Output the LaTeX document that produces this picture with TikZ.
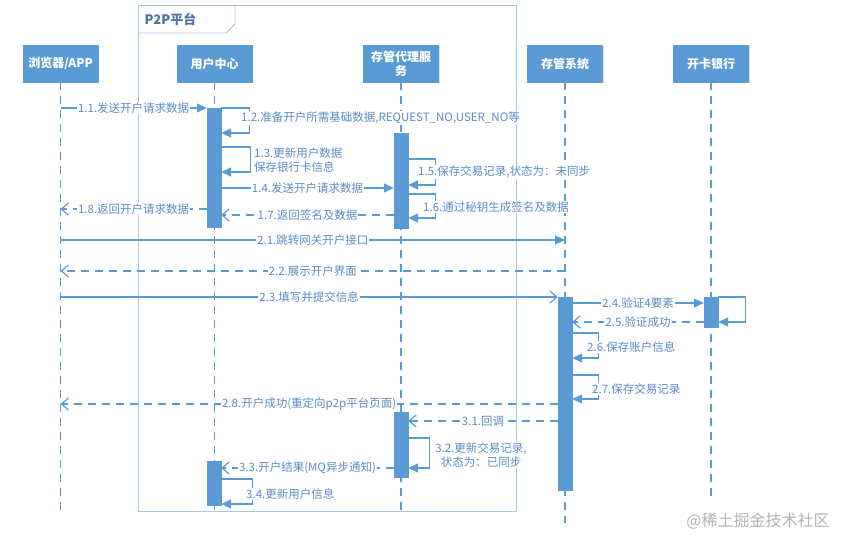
\documentclass[tikz,border=0pt]{standalone}
\usepackage{fontspec}
\setmainfont{Noto Sans CJK SC}
\usetikzlibrary{arrows.meta, shadows}
\definecolor{umlblue}{HTML}{5B9BD5}
\definecolor{msgtext}{HTML}{5B8CC8}
\definecolor{framec}{HTML}{A7C7E7}
\definecolor{hdrtext}{HTML}{4F6F9F}
\tikzset{
  actor/.style={fill=umlblue, draw=umlblue, minimum width=75pt, minimum height=37pt,
    text=white, font=\fontsize{12}{14}\selectfont\bfseries, align=center,
    drop shadow={shadow xshift=1pt, shadow yshift=-1.5pt, opacity=0.25}},
  actbar/.style={fill=umlblue, draw=umlblue, minimum width=14pt, inner sep=0pt, anchor=north},
  life/.style={umlblue, line width=1.3pt, dash pattern=on 8pt off 6pt},
  call/.style={umlblue, line width=1.2pt, -{Triangle[length=10pt,width=9pt]}},
  callopen/.style={umlblue, line width=1.2pt, -{Straight Barb[length=7pt,width=12pt]}},
  reply/.style={umlblue, line width=1.2pt, dash pattern=on 8pt off 6pt,
    -{Straight Barb[length=7pt,width=12pt]}},
  lbl/.style={fill=white, text=msgtext, inner sep=1pt, font=\fontsize{11.5}{14}\selectfont},
}
\begin{document}
\begin{tikzpicture}[x=1pt, y=-1pt]
  \useasboundingbox (0,0) rectangle (844,537);
  % P2P platform frame
  \draw[framec, line width=0.9pt] (138,5) rectangle (516,511);
  \draw[framec, line width=0.9pt] (138,33) -- (226,33) -- (235,24) -- (235,5);
  \node (p2p) [anchor=west, text=hdrtext, font=\fontsize{13}{15}\selectfont\bfseries]
    at (141,19) {P2P平台};

  % participants
  \node[actor] (browser) at (60.5,63.5) {浏览器/APP};
  \node[actor] (ucenter) at (214.5,63.5) {用户中心};
  \node[actor] (proxy) at (401,63.5) {存管代理服\\务};
  \node[actor] (depo) at (565,63.5) {存管系统};
  \node[actor] (bank) at (711,63.5) {开卡银行};

  % lifelines
  \draw[life] (browser.south) -- (browser.south |- 0,512);
  \draw[life] (ucenter.south) -- (ucenter.south |- 0,511);
  \draw[life] (proxy.south) -- (proxy.south |- 0,511);
  \draw[life] (depo.south) -- (depo.south |- 0,523);
  \draw[life] (bank.south) -- (bank.south |- 0,502);

  % activation bars
  \node[actbar, minimum height=119pt] (ua1) at (214,108) {};
  \node[actbar, minimum height=95pt] (pa1) at (401,133) {};
  \node[actbar, minimum height=193pt] (da1) at (565,297) {};
  \node[actbar, minimum height=30pt] (ba1) at (711,297) {};
  \node[actbar, minimum height=65pt] (pa2) at (401,412) {};
  \node[actbar, minimum height=44pt] (ua2) at (214,461) {};

  % 1.x
  \draw[call] (browser.south |- 0,108) -- node[lbl] (t11) {1.1.发送开户请求数据} (ua1.north west);
  \draw[call] (ua1.north east) -- ++(28,0) |- (ua1.east |- 0,133);
  \node[lbl, anchor=west] (t12) at (240,118) {1.2.准备开户所需基础数据,REQUEST\_NO,USER\_NO等};
  \draw[call] (ua1.east |- 0,147) -- ++(29,0) |- (ua1.east |- 0,172);
  \node[lbl, anchor=west, align=left] (t13) at (253,160) {1.3.更新用户数据\\保存银行卡信息};
  \draw[call] (ua1.east |- 0,188) -- node[lbl] (t14) {1.4.发送开户请求数据} (pa1.west |- 0,188);
  \draw[call] (pa1.east |- 0,159) -- ++(27,0) |- (pa1.east |- 0,185);
  \node[lbl, anchor=west] (t15) at (417,172) {1.5.保存交易记录,状态为：未同步};
  \draw[call] (pa1.east |- 0,194) -- ++(27,0) |- (pa1.east |- 0,218);
  \node[lbl, anchor=west] (t16) at (422,207) {1.6.通过秘钥生成签名及数据};
  \draw[reply] (pa1.west |- 0,215) -- node[lbl] (t17) {1.7.返回签名及数据} (ua1.east |- 0,215);
  \draw[reply] (ua1.west |- 0,209) -- node[lbl] (t18) {1.8.返回开户请求数据} (browser.south |- 0,209);

  % 2.x
  \draw[call] (browser.south |- 0,240) -- node[lbl] (t21) {2.1.跳转网关开户接口} (depo.south |- 0,240);
  \draw[reply] (depo.south |- 0,271) -- node[lbl] (t22) {2.2.展示开户界面} (browser.south |- 0,271);
  \draw[callopen] (browser.south |- 0,297) -- node[lbl] (t23) {2.3.填写并提交信息} (da1.north west);
  \draw[call] (da1.east |- 0,303) -- node[lbl] (t24) {2.4.验证4要素} (ba1.west |- 0,303);
  \draw[call] (ba1.north east) -- ++(27,0) |- (ba1.east |- 0,322);
  \draw[reply] (ba1.west |- 0,322) -- node[lbl] (t25) {2.5.验证成功} (da1.east |- 0,322);
  \draw[call] (da1.east |- 0,333) -- ++(26,0) |- (da1.east |- 0,358);
  \node[lbl, anchor=west] (t26) at (586,347) {2.6.保存账户信息};
  \draw[call] (da1.east |- 0,375) -- ++(26,0) |- (da1.east |- 0,399);
  \node[lbl, anchor=west] (t27) at (591,389) {2.7.保存交易记录};
  \draw[reply] (da1.west |- 0,404) -- node[lbl] (t28) {2.8.开户成功(重定向p2p平台页面)} (browser.south |- 0,404);

  % 3.x
  \draw[reply] (da1.west |- 0,421) -- node[lbl] (t31) {3.1.回调} (pa2.east |- 0,421);
  \draw[call] (pa2.east |- 0,438) -- ++(21,0) |- (pa2.east |- 0,468);
  \node[lbl, align=center] (t32) at (481,455) {3.2.更新交易记录,\\状态为：已同步};
  \draw[reply] (pa2.west |- 0,468) -- node[lbl] (t33) {3.3.开户结果(MQ异步通知)} (ua2.east |- 0,468);
  \draw[call] (ua2.east |- 0,479) -- ++(31,0) |- (ua2.east |- 0,504);
  \node[lbl, anchor=west] (t34) at (245,494) {3.4.更新用户信息};

  \node (mark) [text=black!30, font=\fontsize{16}{18}\selectfont] at (758,521) {@稀土掘金技术社区};
\end{tikzpicture}
\end{document}
